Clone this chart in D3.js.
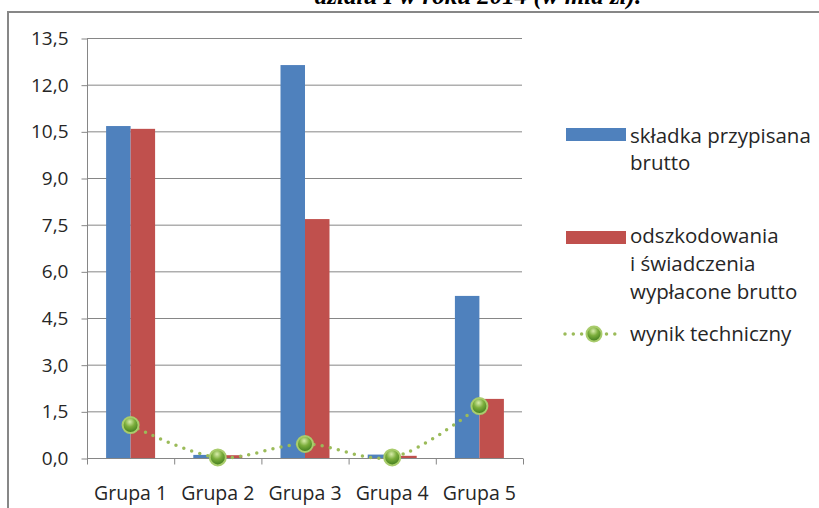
<!DOCTYPE html>
<html lang="pl">
<head>
<meta charset="UTF-8">
<title>Wynik techniczny</title>
<script src="https://d3js.org/d3.v7.min.js"></script>
<style>
  body { margin: 0; background: #fff; overflow: hidden; }
  svg { display: block; }
  svg text { font-family: "Open Sans", "Noto Sans", sans-serif; fill: #262626; }
</style>
</head>
<body>
<div id="chart"></div>
<script>
// data (mld zl)
var groups = ["Grupa 1", "Grupa 2", "Grupa 3", "Grupa 4", "Grupa 5"];
var skladka = [10.67, 0.10, 12.63, 0.11, 5.21];
var odszkodowania = [10.58, 0.09, 7.68, 0.07, 1.90];
var wynik = [1.06, 0.02, 0.45, 0.02, 1.67];
var yTicks = [0, 1.5, 3, 4.5, 6, 7.5, 9, 10.5, 12, 13.5];

var width = 819, height = 508;
var blue = "#4f81bd", red = "#c0504d", green = "#9bbb59";

var svg = d3.select("#chart").append("svg")
  .attr("width", width)
  .attr("height", height);

// clipped title from the page above the chart
svg.append("text")
  .attr("x", 478).attr("y", 4)
  .attr("text-anchor", "middle")
  .style("font-family", "'Liberation Serif', serif")
  .style("font-weight", "bold")
  .style("font-style", "italic")
  .style("font-size", "25px")
  .style("fill", "#000")
  .text("działu I w roku 2014 (w mld zł).");

// chart frame
svg.append("rect")
  .attr("x", 8).attr("y", 12)
  .attr("width", 830).attr("height", 520)
  .attr("fill", "#fff")
  .attr("stroke", "#878787")
  .attr("stroke-width", 2);

var x0 = d3.scaleBand().domain(groups).range([87, 523]).paddingInner(0).paddingOuter(0);
var x1 = d3.scaleBand().domain(["s", "o"]).range([0, x0.bandwidth()]).paddingInner(0).paddingOuter(0.78);
var y = d3.scaleLinear().domain([0, 13.5]).range([458, 38]);

// gridlines
svg.append("g").selectAll("line")
  .data(yTicks.filter(function(d) { return d > 0; }))
  .join("line")
  .attr("x1", 87).attr("x2", 522)
  .attr("y1", function(d) { return y(d) + 0.5; })
  .attr("y2", function(d) { return y(d) + 0.5; })
  .attr("stroke", "#868686").attr("stroke-width", 1);

// bars
var bars = svg.append("g");
groups.forEach(function(g, i) {
  bars.append("rect")
    .attr("x", x0(g) + x1("s"))
    .attr("y", y(skladka[i]))
    .attr("width", x1.bandwidth())
    .attr("height", y(0) - y(skladka[i]))
    .attr("fill", blue);
  bars.append("rect")
    .attr("x", x0(g) + x1("o"))
    .attr("y", y(odszkodowania[i]))
    .attr("width", x1.bandwidth())
    .attr("height", y(0) - y(odszkodowania[i]))
    .attr("fill", red);
});

// y axis
var yAxis = svg.append("g")
  .attr("transform", "translate(87.5,0.5)")
  .call(d3.axisLeft(y).tickValues(yTicks).tickSize(6).tickPadding(13)
    .tickFormat(function(d) { return d.toFixed(1).replace(".", ","); }));
yAxis.selectAll("line, path").attr("stroke", "#868686");
yAxis.select(".domain").attr("d", "M0," + y(13.5) + "V" + y(0));
yAxis.selectAll("text").style("font-size", "19px").style("fill", "#262626");

// x axis: ticks at band edges, labels in the middle
var xAxis = svg.append("g").attr("transform", "translate(0," + (y(0) + 0.5) + ")");
xAxis.append("line").attr("x1", 87).attr("x2", 523).attr("stroke", "#868686");
var edges = groups.map(function(g) { return x0(g); }).concat([x0.range()[1]]);
xAxis.selectAll(".edge").data(edges).join("line")
  .attr("class", "edge")
  .attr("x1", function(d) { return d + 0.5; }).attr("x2", function(d) { return d + 0.5; })
  .attr("y1", 0).attr("y2", 6)
  .attr("stroke", "#868686");
xAxis.selectAll(".lab").data(groups).join("text")
  .attr("class", "lab")
  .attr("x", function(d) { return x0(d) + x0.bandwidth() / 2; })
  .attr("y", 41)
  .attr("text-anchor", "middle")
  .style("font-size", "19.5px")
  .text(function(d) { return d; });

// marker gradient
var defs = svg.append("defs");
var grad = defs.append("radialGradient").attr("id", "ball")
  .attr("cx", "45%").attr("cy", "30%").attr("r", "70%");
grad.append("stop").attr("offset", "0%").attr("stop-color", "#d8ecaa");
grad.append("stop").attr("offset", "45%").attr("stop-color", "#7cae3c");
grad.append("stop").attr("offset", "100%").attr("stop-color", "#3d7a1c");

// smoothed dotted line
var cx = function(i) { return x0(groups[i]) + x0.bandwidth() / 2; };
var line = d3.line()
  .x(function(d, i) { return cx(i); })
  .y(function(d) { return y(d); })
  .curve(d3.curveCatmullRom.alpha(0.5));
svg.append("path")
  .datum(wynik)
  .attr("d", line)
  .attr("fill", "none")
  .attr("stroke", green)
  .attr("stroke-width", 3.5)
  .attr("stroke-linecap", "round")
  .attr("stroke-dasharray", "0 8.3");

svg.append("g").selectAll("circle")
  .data(wynik)
  .join("circle")
  .attr("cx", function(d, i) { return cx(i); })
  .attr("cy", function(d) { return y(d); })
  .attr("r", 8)
  .attr("fill", "url(#ball)")
  .attr("stroke", "#a9cc6c")
  .attr("stroke-width", 2);

// legend
var leg = svg.append("g").style("font-size", "20.5px");
leg.append("rect").attr("x", 566).attr("y", 128).attr("width", 60).attr("height", 13).attr("fill", blue);
leg.append("rect").attr("x", 566).attr("y", 231).attr("width", 60).attr("height", 13).attr("fill", red);
var legLines = [
  ["składka przypisana", 143], ["brutto", 170],
  ["odszkodowania", 243], ["i świadczenia", 271], ["wypłacone brutto", 299],
  ["wynik techniczny", 341]
];
leg.selectAll("text").data(legLines).join("text")
  .attr("x", 630)
  .attr("y", function(d) { return d[1]; })
  .text(function(d) { return d[0]; });
leg.append("line")
  .attr("x1", 565).attr("x2", 620).attr("y1", 334).attr("y2", 334)
  .attr("stroke", green).attr("stroke-width", 3.5)
  .attr("stroke-linecap", "round").attr("stroke-dasharray", "0 8.3");
leg.append("circle")
  .attr("cx", 594).attr("cy", 334).attr("r", 7.5)
  .attr("fill", "url(#ball)").attr("stroke", "#a9cc6c").attr("stroke-width", 2);
</script>
</body>
</html>
